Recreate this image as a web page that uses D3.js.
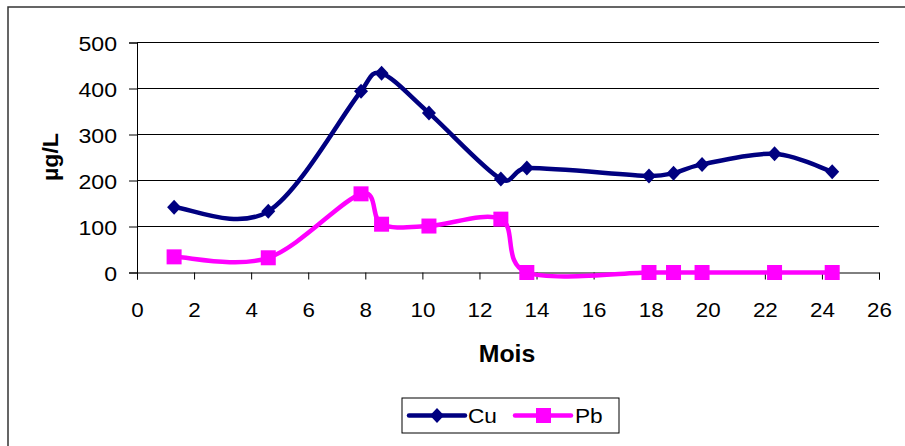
<!DOCTYPE html>
<html>
<head>
<meta charset="utf-8">
<script src="https://cdn.jsdelivr.net/npm/d3@7"></script>
<style>
  html, body { margin: 0; padding: 0; background: #fff; }
  svg { display: block; font-family: "Liberation Sans", Arial, sans-serif; }
</style>
</head>
<body>
<svg id="chart" width="905" height="446"></svg>
<script>
// Sampling months and measured concentrations (µg/L)
const months = [1.3, 4.6, 7.85, 8.57, 10.23, 12.75, 13.66, 17.94, 18.8, 19.8, 22.34, 24.36];
const cuValues = [142, 133, 394, 433, 347, 203, 227, 210, 216, 235, 258, 219];
const pbValues = [34, 32, 171, 105, 101, 116, 0, 0, 0, 0, 0, 0];
const xTicks = [0, 2, 4, 6, 8, 10, 12, 14, 16, 18, 20, 22, 24, 26];
const yTicks = [0, 100, 200, 300, 400, 500];
const seriesNames = ["Cu", "Pb"];

const FONT = "'Liberation Sans', Arial, sans-serif";
const svg = d3.select("#chart");

// Outer chart frame (extends past the right and bottom edges)
svg.append("rect")
  .attr("x", 8).attr("y", 7)
  .attr("width", 1000).attr("height", 1000)
  .attr("fill", "none").attr("stroke", "#333").attr("stroke-width", 1.5);

const x = d3.scaleLinear().domain([0, 26]).range([137, 879]);
const y = d3.scaleLinear().domain([0, 500]).range([272.5, 42.5]);

// Horizontal gridlines
svg.append("g")
  .selectAll("line")
  .data(yTicks.filter(d => d > 0))
  .join("line")
  .attr("x1", x(0)).attr("x2", x(26))
  .attr("y1", d => y(d)).attr("y2", d => y(d))
  .attr("stroke", "#000").attr("stroke-width", 1);

// Y axis
const yAxis = svg.append("g")
  .attr("transform", `translate(${x(0)},0)`)
  .call(d3.axisLeft(y).tickValues(yTicks).tickSize(8).tickFormat(d3.format("d")));
yAxis.select(".domain").attr("stroke", "#000").attr("stroke-width", 1);
yAxis.selectAll(".tick line").attr("stroke", "#000");
yAxis.selectAll(".tick text")
  .attr("x", null).attr("dy", null)
  .attr("transform", "translate(-20,7.5) scale(1.1,1)")
  .attr("font-size", 21).attr("fill", "#000")
  .attr("font-family", FONT);

// X axis
const xAxis = svg.append("g")
  .attr("transform", `translate(0,${y(0)})`)
  .call(d3.axisBottom(x).tickValues(xTicks).tickSize(7).tickFormat(d3.format("d")));
xAxis.select(".domain").attr("stroke", "#000").attr("stroke-width", 1);
xAxis.selectAll(".tick line").attr("stroke", "#000");
xAxis.selectAll(".tick text")
  .attr("y", null).attr("dy", null)
  .attr("transform", "translate(0,44.5) scale(1.12,1)")
  .attr("font-size", 20).attr("fill", "#000")
  .attr("font-family", FONT);

// Axis titles
svg.append("text")
  .attr("transform", "translate(507,362) scale(1.08,1)")
  .attr("text-anchor", "middle")
  .attr("font-size", 23).attr("font-weight", "bold")
  .attr("font-family", FONT)
  .text("Mois");

svg.append("text")
  .attr("transform", "translate(58,157) rotate(-90) scale(1.05,1)")
  .attr("text-anchor", "middle")
  .attr("font-size", 22).attr("font-weight", "bold")
  .attr("font-family", FONT)
  .text("µg/L");

// Spreadsheet-style smoothing: Catmull-Rom tangents (1/6 of the neighbour
// span) with each handle limited to half the length of its own segment,
// so closely spaced samples don't produce loops.
function SmoothCurve(context) { this._context = context; }
SmoothCurve.prototype = {
  areaStart() { this._line = 0; },
  areaEnd() { this._line = NaN; },
  lineStart() { this._pts = []; },
  point(px, py) { this._pts.push([+px, +py]); },
  lineEnd() {
    const p = this._pts, n = p.length, c = this._context;
    if (!n) return;
    c.moveTo(p[0][0], p[0][1]);
    const limit = (v, max) => {
      const len = Math.hypot(v[0], v[1]);
      return len > max ? [v[0] * max / len, v[1] * max / len] : v;
    };
    for (let i = 0; i < n - 1; i++) {
      const p0 = p[Math.max(i - 1, 0)], p1 = p[i], p2 = p[i + 1], p3 = p[Math.min(i + 2, n - 1)];
      const half = Math.hypot(p2[0] - p1[0], p2[1] - p1[1]) * 0.5;
      const t1 = limit([(p2[0] - p0[0]) / 6, (p2[1] - p0[1]) / 6], half);
      const t2 = limit([(p3[0] - p1[0]) / 6, (p3[1] - p1[1]) / 6], half);
      c.bezierCurveTo(p1[0] + t1[0], p1[1] + t1[1], p2[0] - t2[0], p2[1] - t2[1], p2[0], p2[1]);
    }
  }
};
const curveSmooth = context => new SmoothCurve(context);

const line = d3.line()
  .x(d => x(d[0]))
  .y(d => y(d[1]))
  .curve(curveSmooth);

const cuData = months.map((m, i) => [m, cuValues[i]]);
const pbData = months.map((m, i) => [m, pbValues[i]]);

const cuColor = "#000080";
const pbColor = "#FF00FF";

// Pb series
svg.append("path")
  .datum(pbData)
  .attr("d", line)
  .attr("fill", "none").attr("stroke", pbColor)
  .attr("stroke-width", 4.5).attr("stroke-linejoin", "round");
svg.append("g")
  .selectAll("rect")
  .data(pbData)
  .join("rect")
  .attr("x", d => x(d[0]) - 7.5).attr("y", d => y(d[1]) - 7.5)
  .attr("width", 15).attr("height", 15)
  .attr("fill", pbColor);

// Cu series
svg.append("path")
  .datum(cuData)
  .attr("d", line)
  .attr("fill", "none").attr("stroke", cuColor)
  .attr("stroke-width", 4.5).attr("stroke-linejoin", "round");
const diamond = "M0,-7.5L7,0L0,7.5L-7,0Z";
svg.append("g")
  .selectAll("path")
  .data(cuData)
  .join("path")
  .attr("transform", d => `translate(${x(d[0])},${y(d[1])})`)
  .attr("d", diamond)
  .attr("fill", cuColor);

// Legend
const legend = svg.append("g");
legend.append("rect")
  .attr("x", 402).attr("y", 398)
  .attr("width", 217).attr("height", 35)
  .attr("fill", "#fff").attr("stroke", "#000").attr("stroke-width", 1);

const legendItems = [
  { name: seriesNames[0], color: cuColor, lx: 409, tx: 468, marker: "diamond" },
  { name: seriesNames[1], color: pbColor, lx: 515, tx: 575, marker: "square" }
];
const ly = 415.5;
legendItems.forEach(item => {
  legend.append("line")
    .attr("x1", item.lx).attr("x2", item.lx + 56)
    .attr("y1", ly).attr("y2", ly)
    .attr("stroke", item.color).attr("stroke-width", 4.5).attr("stroke-linecap", "round");
  if (item.marker === "diamond") {
    legend.append("path")
      .attr("transform", `translate(${item.lx + 28},${ly})`)
      .attr("d", diamond)
      .attr("fill", item.color);
  } else {
    legend.append("rect")
      .attr("x", item.lx + 21).attr("y", ly - 7.5)
      .attr("width", 15).attr("height", 15)
      .attr("fill", item.color);
  }
  legend.append("text")
    .attr("transform", `translate(${item.tx},${ly + 7.5}) scale(1.08,1)`)
    .attr("font-size", 21)
    .attr("font-family", FONT)
    .text(item.name);
});
</script>
</body>
</html>
